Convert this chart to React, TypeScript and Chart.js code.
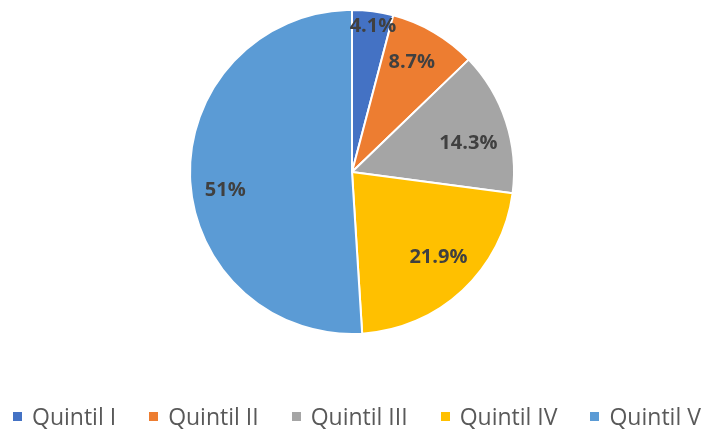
import React, { useEffect, useRef } from "react";
import { Chart, registerables } from "chart.js";

Chart.register(...registerables);

const categories = ["Quintil I", "Quintil II", "Quintil III", "Quintil IV", "Quintil V"];
const values = [4.1, 8.7, 14.3, 21.9, 51];
const valueLabels = ["4.1%", "8.7%", "14.3%", "21.9%", "51%"];
const colors = ["#4472C4", "#ED7D31", "#A5A5A5", "#FFC000", "#5B9BD5"];

// label placement (fraction of radius, angle shift in degrees from slice middle)
const labelRadiusFrac = [0.91, 0.77, 0.74, 0.75, 0.79];
const labelAngleShift = [0.8, -1.8, 4.3, -2.3, -6.3];

const labelPlugin = {
  id: "sliceLabels",
  afterDatasetsDraw(chart: any) {
    const ctx = chart.ctx;
    const meta = chart.getDatasetMeta(0);
    ctx.save();
    ctx.font = "bold 20px 'Open Sans'";
    ctx.fillStyle = "#404040";
    ctx.textAlign = "center";
    ctx.textBaseline = "middle";
    meta.data.forEach((arc: any, i: number) => {
      const { x, y, startAngle, endAngle, outerRadius } = arc.getProps(
        ["x", "y", "startAngle", "endAngle", "outerRadius"],
        true
      );
      const mid = (startAngle + endAngle) / 2 + (labelAngleShift[i] * Math.PI) / 180;
      const r = outerRadius * labelRadiusFrac[i];
      ctx.fillText(valueLabels[i], x + Math.cos(mid) * r, y + Math.sin(mid) * r);
    });
    ctx.restore();
  },
};

export default function App() {
  const ref = useRef<HTMLCanvasElement>(null);
  useEffect(() => {
    if (!ref.current) return;
    const chart = new Chart(ref.current, {
      type: "pie",
      data: {
        labels: categories,
        datasets: [
          {
            data: values,
            backgroundColor: colors,
            borderColor: "#FFFFFF",
            borderWidth: 2,
          },
        ],
      },
      options: {
        animation: false,
        responsive: false,
        layout: { padding: { top: 9, bottom: 94, left: 0, right: 0 } },
        plugins: {
          legend: { display: false },
          tooltip: { enabled: false },
        },
      },
      plugins: [labelPlugin],
    });
    return () => chart.destroy();
  }, []);

  return (
    <div style={{ position: "absolute", left: 0, top: 0, width: 704, height: 429, background: "#fff", overflow: "hidden" }}>
      <canvas ref={ref} width={704} height={429} style={{ display: "block" }} />
      <div
        style={{
          position: "absolute",
          left: 13,
          top: 405,
          display: "flex",
          alignItems: "center",
          whiteSpace: "nowrap",
          fontFamily: "'Open Sans'",
          fontSize: 23,
          lineHeight: "22px",
          color: "#595959",
        }}
      >
        {categories.map((c, i) => (
          <div key={c} style={{ display: "flex", alignItems: "center", marginRight: 33 }}>
            <span style={{ width: 9, height: 9, background: colors[i], display: "inline-block", marginRight: 10 }} />
            <span>{c}</span>
          </div>
        ))}
      </div>
    </div>
  );
}
